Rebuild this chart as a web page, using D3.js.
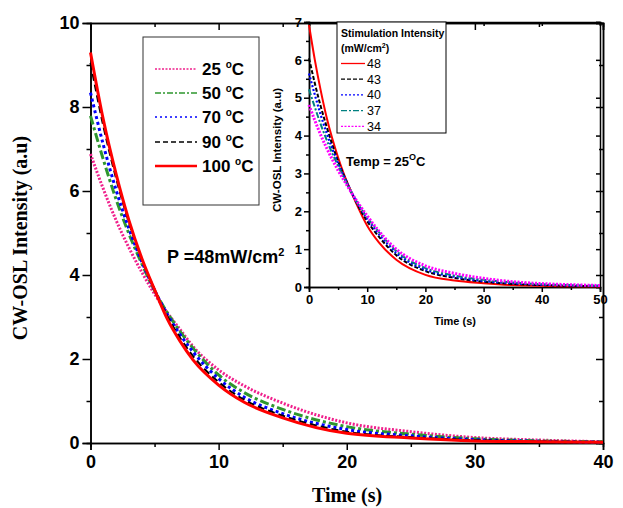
<!DOCTYPE html>
<html><head><meta charset="utf-8">
<script src="https://cdn.jsdelivr.net/npm/d3@7"></script>
<style>body{margin:0;background:#fff}svg{display:block}</style>
</head><body><svg id="c" width="623" height="508"></svg>
<script>
// ---------- data ----------
const mainTimes = [0,1,2,3,4,5,6,7,8,10,12,15,20,25,30,35,40];
const temps = ["25","50","70","90","100"];
const s25  = [6.88,6.05,5.30,4.65,4.07,3.55,3.10,2.70,2.30,1.74,1.36,0.95,0.48,0.27,0.13,0.07,0.03];
const s50  = [7.79,6.75,5.80,4.98,4.27,3.63,3.10,2.65,2.26,1.62,1.20,0.80,0.39,0.21,0.10,0.05,0.03];
const s70  = [8.34,7.10,6.02,5.10,4.32,3.64,3.06,2.58,2.17,1.53,1.09,0.70,0.32,0.17,0.08,0.04,0.02];
const s90  = [9.05,7.55,6.30,5.25,4.38,3.65,3.02,2.50,2.07,1.45,1.03,0.65,0.27,0.14,0.07,0.04,0.02];
const s100 = [9.30,7.70,6.40,5.30,4.40,3.65,2.95,2.42,1.98,1.38,0.97,0.60,0.23,0.12,0.05,0.03,0.02];

const insetTimes = [0,1,2,3,4,5,6,8,10,12,15,20,25,30,35,40,45,50];
const intensities = ["48","43","40","37","34"];
const i48 = [6.92,6.00,5.20,4.50,3.92,3.42,2.98,2.25,1.62,1.18,0.72,0.32,0.17,0.10,0.05,0.03,0.02,0.01];
const i43 = [6.04,5.38,4.78,4.25,3.76,3.32,2.95,2.28,1.74,1.33,0.84,0.42,0.24,0.14,0.08,0.05,0.03,0.02];
const i40 = [5.64,5.08,4.55,4.08,3.65,3.27,2.93,2.30,1.80,1.40,0.90,0.46,0.27,0.16,0.10,0.06,0.04,0.03];
const i37 = [5.22,4.75,4.30,3.90,3.53,3.20,2.88,2.30,1.84,1.45,0.95,0.50,0.30,0.19,0.12,0.07,0.05,0.03];
const i34 = [4.81,4.40,4.02,3.68,3.37,3.08,2.82,2.32,1.88,1.48,1.00,0.56,0.36,0.23,0.14,0.09,0.06,0.04];

const mainXTicks = [0,10,20,30,40];
const mainYTicks = [0,2,4,6,8,10];
const insetXTicks = [0,10,20,30,40,50];
const insetYTicks = [0,1,2,3,4,5,6,7];

// ---------- styles ----------
const mainStyles = [
  {name:"25",  vals:s25,  color:"#f0208c", dash:"2,1.6", w:3,   ldash:"2,1.5"},
  {name:"50",  vals:s50,  color:"#2e962e", dash:"9,3,3,3", w:3, ldash:"6,2,2,2"},
  {name:"70",  vals:s70,  color:"#0000ff", dash:"3,3",   w:3,   ldash:"2,3"},
  {name:"90",  vals:s90,  color:"#000000", dash:"7,4",   w:2,   ldash:"5,3"},
  {name:"100", vals:s100, color:"#ff0000", dash:null,    w:3,   ldash:null}
];
const insetStyles = [
  {name:"48", vals:i48, color:"#ff0000", dash:null,      w:2},
  {name:"43", vals:i43, color:"#000000", dash:"4,2",     w:2},
  {name:"40", vals:i40, color:"#0000ff", dash:"2,2",     w:2.2},
  {name:"37", vals:i37, color:"#008080", dash:"6,2,2,2", w:2},
  {name:"34", vals:i34, color:"#ff00ff", dash:"2,1.5",   w:3}
];

const svg = d3.select("#c");
const SANS = "'Liberation Sans', Arial, sans-serif";
const SERIF = "'Liberation Serif', 'Times New Roman', serif";

// ---------- main plot ----------
const x = d3.scaleLinear([0,40],[90.5,603]);
const y = d3.scaleLinear([0,10],[443,23]);

function styleAxis(g, fs, weight){
  g.select(".domain").attr("stroke","#000").attr("stroke-width",1.5);
  g.selectAll(".tick line").attr("stroke","#000").attr("stroke-width",1.5);
  g.selectAll("text").attr("font-family",SANS).attr("font-weight",weight).attr("font-size",fs).attr("fill","#000");
}
const mxMinor=[5,15,25,35], myMinor=[1,3,5,7,9];
svg.append("g").attr("transform",`translate(0,443)`).call(d3.axisBottom(x).tickValues(mxMinor).tickSize(4).tickFormat("")).call(g=>styleAxis(g,0,"bold"));
svg.append("g").attr("transform",`translate(90.5,0)`).call(d3.axisLeft(y).tickValues(myMinor).tickSize(4).tickFormat("")).call(g=>styleAxis(g,0,"bold"));
svg.append("g").attr("transform",`translate(0,23)`).call(d3.axisTop(x).tickValues(mxMinor).tickSize(-4).tickFormat("")).call(g=>styleAxis(g,0,"bold"));
svg.append("g").attr("transform",`translate(603,0)`).call(d3.axisRight(y).tickValues(myMinor).tickSize(-4).tickFormat("")).call(g=>styleAxis(g,0,"bold"));
svg.append("g").attr("transform",`translate(0,443)`).call(d3.axisBottom(x).tickValues(mainXTicks).tickSize(7).tickPadding(5).tickFormat(d3.format("d"))).call(g=>styleAxis(g,18,"bold"));
svg.append("g").attr("transform",`translate(90.5,0)`).call(d3.axisLeft(y).tickValues(mainYTicks).tickSize(8).tickPadding(3).tickFormat(d3.format("d"))).call(g=>styleAxis(g,18,"bold"));
svg.append("g").attr("transform",`translate(0,23)`).call(d3.axisTop(x).tickValues(mainXTicks).tickSize(-7).tickFormat("")).call(g=>styleAxis(g,0,"bold"));
svg.append("g").attr("transform",`translate(603,0)`).call(d3.axisRight(y).tickValues(mainYTicks).tickSize(-7).tickFormat("")).call(g=>styleAxis(g,0,"bold"));

const lineMain = d3.line().x((d,i)=>x(mainTimes[i])).y(d=>y(d)).curve(d3.curveMonotoneX);
mainStyles.forEach(s=>{
  svg.append("path").attr("d",lineMain(s.vals)).attr("fill","none").attr("stroke",s.color)
    .attr("stroke-width",s.w).attr("stroke-dasharray",s.dash);
});

svg.append("text").attr("x",347).attr("y",502).attr("text-anchor","middle")
  .attr("font-family",SERIF).attr("font-weight","bold").attr("font-size",20).text("Time (s)");
svg.append("text").attr("transform","translate(27,238) rotate(-90)").attr("text-anchor","middle")
  .attr("font-family",SERIF).attr("font-weight","bold").attr("font-size",20).text("CW-OSL Intensity (a.u)");

const pt = svg.append("text").attr("x",167).attr("y",263).attr("font-family",SANS).attr("font-weight","bold").attr("font-size",18);
pt.append("tspan").text("P =48mW/cm");
pt.append("tspan").attr("dy",-7).attr("font-size",11).text("2");

svg.append("rect").attr("x",143).attr("y",37).attr("width",116).attr("height",168)
  .attr("fill","none").attr("stroke","#333").attr("stroke-width",1);
const legY = [69,93,117,142,166];
mainStyles.forEach((s,i)=>{
  svg.append("line").attr("x1",155).attr("x2",197).attr("y1",legY[i]).attr("y2",legY[i])
    .attr("stroke",s.color).attr("stroke-width", s.ldash? 1.5 : 2.5).attr("stroke-dasharray",s.ldash);
  const t = svg.append("text").attr("x",202).attr("y",legY[i]+6).attr("font-family",SANS).attr("font-weight","bold").attr("font-size",17);
  t.append("tspan").text(temps[i]+" ");
  t.append("tspan").attr("dy",-7).attr("font-size",10).text("o");
  t.append("tspan").attr("dy",7).attr("font-size",17).text("C");
});

// ---------- inset ----------
const xi = d3.scaleLinear([0,50],[309,600]);
const yi = d3.scaleLinear([0,7],[287,22]);
const ixMinor=[5,15,25,35,45], iyMinor=[0.5,1.5,2.5,3.5,4.5,5.5,6.5];
svg.append("g").attr("transform",`translate(0,287)`).call(d3.axisBottom(xi).tickValues(ixMinor).tickSize(3).tickFormat("")).call(g=>styleAxis(g,0,"bold"));
svg.append("g").attr("transform",`translate(309,0)`).call(d3.axisLeft(yi).tickValues(iyMinor).tickSize(3).tickFormat("")).call(g=>styleAxis(g,0,"bold"));
svg.append("g").attr("transform",`translate(0,287)`).call(d3.axisBottom(xi).tickValues(insetXTicks).tickSize(5).tickPadding(3).tickFormat(d3.format("d"))).call(g=>styleAxis(g,13,"bold"));
svg.append("g").attr("transform",`translate(309,0)`).call(d3.axisLeft(yi).tickValues(insetYTicks).tickSize(5).tickPadding(2).tickFormat(d3.format("d"))).call(g=>styleAxis(g,13,"bold"));
svg.append("g").attr("transform",`translate(0,22)`).call(d3.axisTop(xi).tickValues(insetXTicks).tickSize(-4).tickFormat("")).call(g=>styleAxis(g,0,"bold"));
svg.append("g").attr("transform",`translate(600,0)`).call(d3.axisRight(yi).tickValues(insetYTicks).tickSize(-4).tickFormat("")).call(g=>styleAxis(g,0,"bold"));

const lineIn = d3.line().x((d,i)=>xi(insetTimes[i])).y(d=>yi(d)).curve(d3.curveMonotoneX);
insetStyles.forEach(s=>{
  svg.append("path").attr("d",lineIn(s.vals)).attr("fill","none").attr("stroke",s.color)
    .attr("stroke-width",s.w).attr("stroke-dasharray",s.dash);
});

svg.append("text").attr("x",455).attr("y",325).attr("text-anchor","middle")
  .attr("font-family",SANS).attr("font-weight","bold").attr("font-size",11).text("Time (s)");
svg.append("text").attr("transform","translate(281,150) rotate(-90)").attr("text-anchor","middle")
  .attr("font-family",SANS).attr("font-weight","bold").attr("font-size",11.5).text("CW-OSL Intensity (a.u)");

const tt = svg.append("text").attr("x",346).attr("y",166).attr("font-family",SANS).attr("font-weight","bold").attr("font-size",13);
tt.append("tspan").text("Temp = 25");
tt.append("tspan").attr("dy",-6).attr("font-size",9).text("O");
tt.append("tspan").attr("dy",6).attr("font-size",13).text("C");

svg.append("rect").attr("x",337).attr("y",22).attr("width",109).attr("height",111)
  .attr("fill","#fff").attr("stroke","#000").attr("stroke-width",1);
svg.append("text").attr("x",341).attr("y",37).attr("font-family",SANS).attr("font-weight","bold").attr("font-size",10.5).text("Stimulation Intensity");
const ut = svg.append("text").attr("x",341).attr("y",52).attr("font-family",SANS).attr("font-weight","bold").attr("font-size",10.5);
ut.append("tspan").text("(mW/cm");
ut.append("tspan").attr("dy",-4).attr("font-size",7).text("2");
ut.append("tspan").attr("dy",4).text(")");
const ilY = [63.5,79.2,94.9,110.6,126.3];
insetStyles.forEach((s,i)=>{
  svg.append("line").attr("x1",341).attr("x2",365).attr("y1",ilY[i]).attr("y2",ilY[i])
    .attr("stroke",s.color).attr("stroke-width",1.3).attr("stroke-dasharray",s.dash);
  svg.append("text").attr("x",367).attr("y",ilY[i]+4.5).attr("font-family",SANS).attr("font-size",12.5).text(intensities[i]);
});
</script></body></html>
